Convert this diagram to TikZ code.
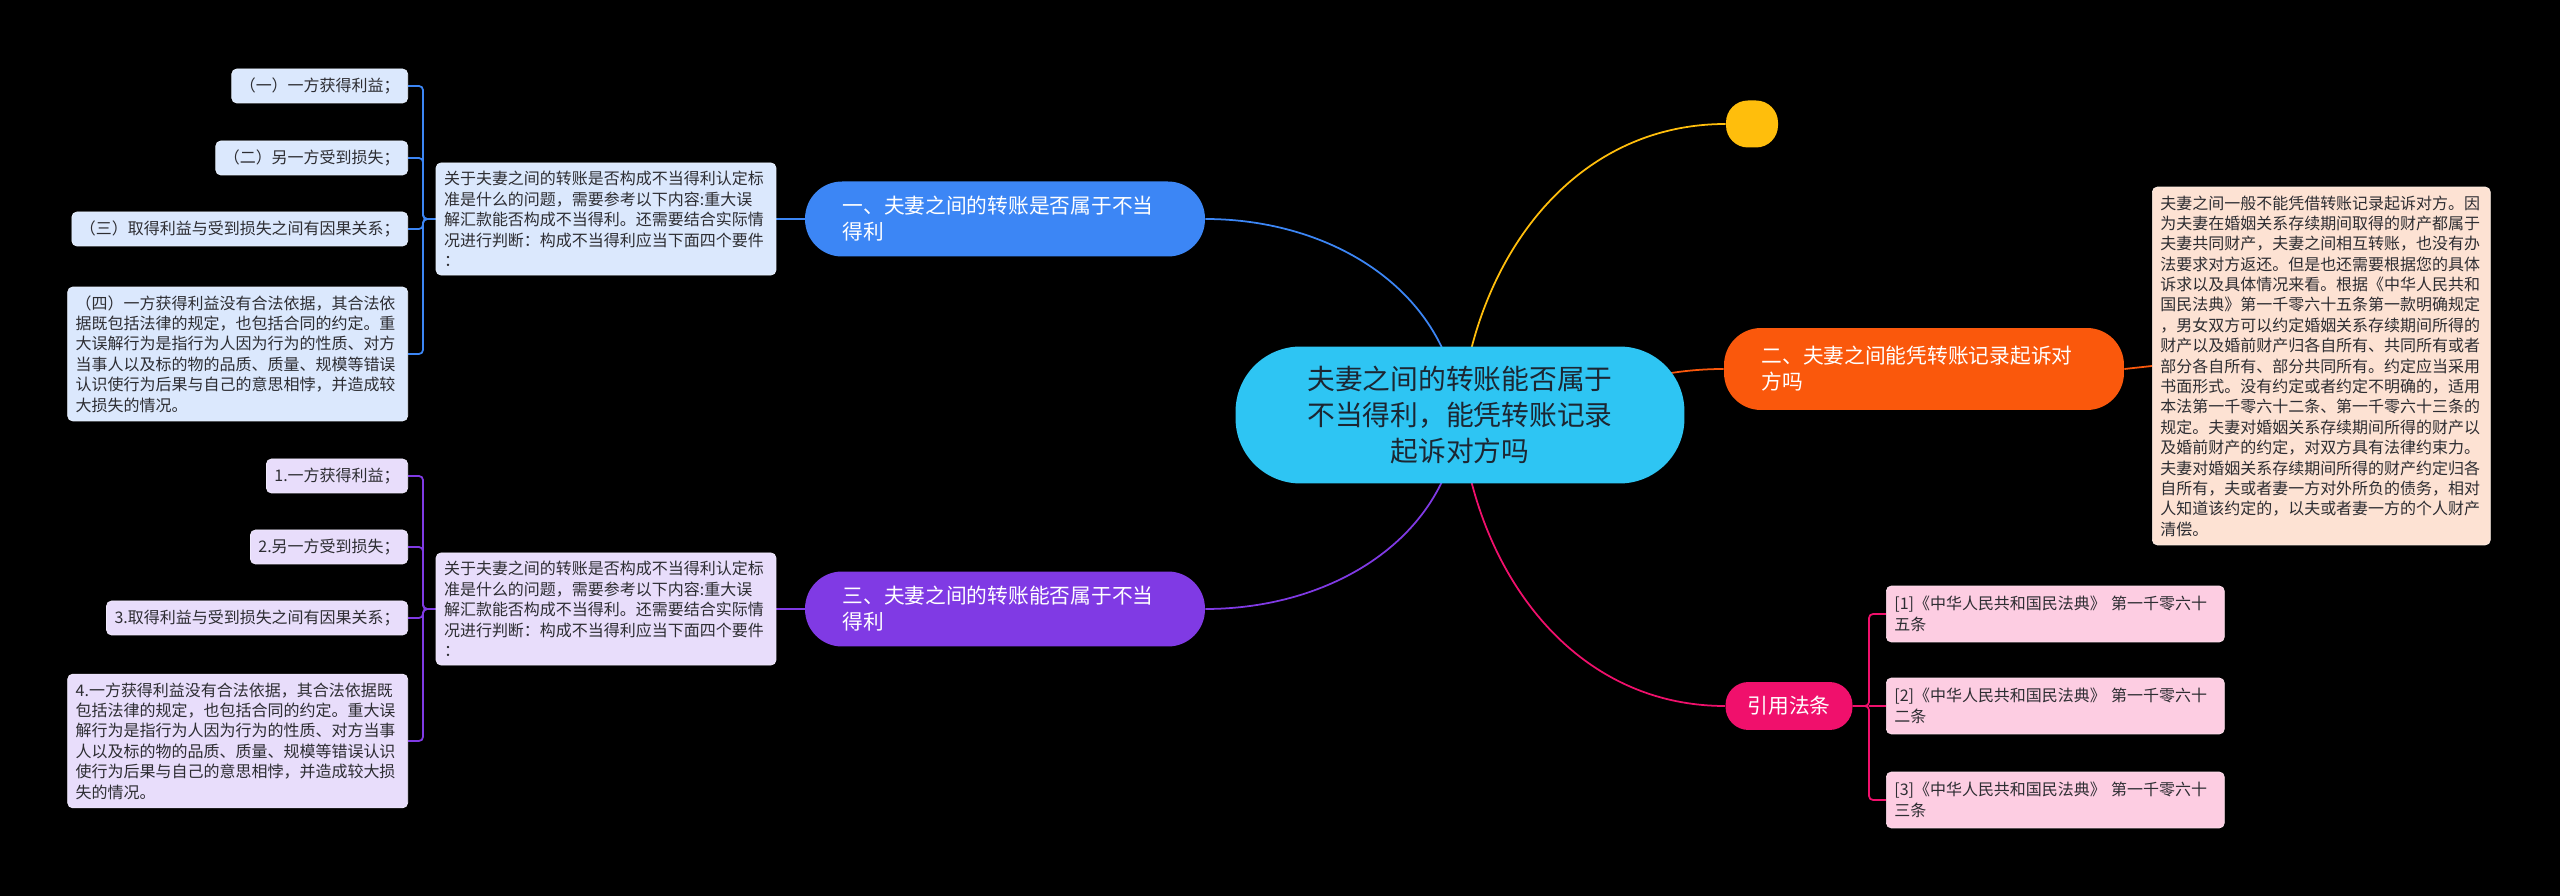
\documentclass[tikz,border=0pt]{standalone}
\usepackage{fontspec}
\setmainfont{Noto Sans CJK SC}
\usepackage{tikz}
\usetikzlibrary{positioning, backgrounds, calc}
\definecolor{rootcyan}{RGB}{46,197,243}
\definecolor{rootink}{RGB}{28,38,50}
\definecolor{branchblue}{RGB}{60,134,245}
\definecolor{branchorange}{RGB}{250,88,12}
\definecolor{branchpurple}{RGB}{128,58,228}
\definecolor{citepink}{RGB}{240,16,108}
\definecolor{dotyellow}{RGB}{255,190,12}
\definecolor{noteblue}{RGB}{219,232,253}
\definecolor{noteorange}{RGB}{253,226,211}
\definecolor{notepurple}{RGB}{232,221,251}
\definecolor{notepink}{RGB}{253,205,226}
\definecolor{noteink}{RGB}{45,45,50}
\tikzset{
    mapcore/.style={rectangle, fill=rootcyan, rounded corners=1.3cm, minimum width=8.98cm, minimum height=2.74cm, align=center, text=rootink, font=\fontsize{15.8}{20.5}\selectfont},
    mapbranch/.style={rectangle, fill=#1, rounded corners=0.74cm, text=white, align=left, text width=6.5cm, inner xsep=0.75cm, minimum height=1.5cm, font=\fontsize{11.8}{14.8}\selectfont},
    mapcite/.style={rectangle, fill=#1, rounded corners=0.46cm, text=white, minimum width=2.54cm, minimum height=0.96cm, font=\fontsize{11.8}{14.8}\selectfont},
    mapdot/.style={rectangle, fill=#1, rounded corners=0.44cm, minimum width=1.04cm, minimum height=0.94cm, inner sep=0pt},
    mapnote/.style={rectangle, fill=#1, draw=#1!60!white, line width=0.4pt, rounded corners=0.1cm, text=noteink, align=left, inner xsep=0.16cm, inner ysep=0.17cm, minimum height=0.68cm, font=\fontsize{9.1}{11.6}\selectfont},
    maplink/.style={draw=#1, line width=1pt},
    mapfork/.style={draw=#1, line width=1pt, rounded corners=0.08cm}
}

\begin{document}
\begin{tikzpicture}[x=0.02cm, y=0.02cm]
\useasboundingbox (0,0) rectangle (2560,896);

% centre and right side
\node[mapcore] (root) at (1460,481) {夫妻之间的转账能否属于\\不当得利，能凭转账记录\\起诉对方吗};
\node[mapdot=dotyellow] (dot) at (1752,772) {};
\node[mapbranch=branchorange, minimum height=1.64cm] (b2) at (1924,527) {二、夫妻之间能凭转账记录起诉对\\方吗};
\node[mapnote=noteorange, text width=6.44cm, anchor=west] (n2) at (2152,530) {夫妻之间一般不能凭借转账记录起诉对方。因\\为夫妻在婚姻关系存续期间取得的财产都属于\\夫妻共同财产，夫妻之间相互转账，也没有办\\法要求对方返还。但是也还需要根据您的具体\\诉求以及具体情况来看。根据《中华人民共和\\国民法典》第一千零六十五条第一款明确规定\\，男女双方可以约定婚姻关系存续期间所得的\\财产以及婚前财产归各自所有、共同所有或者\\部分各自所有、部分共同所有。约定应当采用\\书面形式。没有约定或者约定不明确的，适用\\本法第一千零六十二条、第一千零六十三条的\\规定。夫妻对婚姻关系存续期间所得的财产以\\及婚前财产的约定，对双方具有法律约束力。\\夫妻对婚姻关系存续期间所得的财产约定归各\\自所有，夫或者妻一方对外所负的债务，相对\\人知道该约定的，以夫或者妻一方的个人财产\\清偿。};

\node[mapcite=citepink] (cite) at (1789,190) {引用法条};
\coordinate (k4) at (1869,190);
\node[mapnote=notepink, text width=6.44cm, minimum height=1.12cm, anchor=west] (r1) at (1886,282) {[1]《中华人民共和国民法典》 第一千零六十\\五条};
\node[mapnote=notepink, text width=6.44cm, minimum height=1.12cm, anchor=west] (r2) at (1886,190) {[2]《中华人民共和国民法典》 第一千零六十\\二条};
\node[mapnote=notepink, text width=6.44cm, minimum height=1.12cm, anchor=west] (r3) at (1886,96) {[3]《中华人民共和国民法典》 第一千零六十\\三条};

% left side, upper
\node[mapbranch=branchblue] (b1) at (1005,677) {一、夫妻之间的转账是否属于不当\\得利};
\node[mapnote=noteblue, text width=6.48cm] (n1) at (606,677) {关于夫妻之间的转账是否构成不当得利认定标\\准是什么的问题，需要参考以下内容:重大误\\解汇款能否构成不当得利。还需要结合实际情\\况进行判断：构成不当得利应当下面四个要件\\：};
\coordinate (k1) at (423,677);
\node[mapnote=noteblue, anchor=east] (l11) at (408,810) {（一）一方获得利益；};
\node[mapnote=noteblue, anchor=east] (l12) at (408,738) {（二）另一方受到损失；};
\node[mapnote=noteblue, anchor=east] (l13) at (408,667) {（三）取得利益与受到损失之间有因果关系；};
\node[mapnote=noteblue, text width=6.48cm, anchor=east] (l14) at (408,542) {（四）一方获得利益没有合法依据，其合法依\\据既包括法律的规定，也包括合同的约定。重\\大误解行为是指行为人因为行为的性质、对方\\当事人以及标的物的品质、质量、规模等错误\\认识使行为后果与自己的意思相悖，并造成较\\大损失的情况。};

% left side, lower
\node[mapbranch=branchpurple] (b3) at (1005,287) {三、夫妻之间的转账能否属于不当\\得利};
\node[mapnote=notepurple, text width=6.48cm] (n3) at (606,287) {关于夫妻之间的转账是否构成不当得利认定标\\准是什么的问题，需要参考以下内容:重大误\\解汇款能否构成不当得利。还需要结合实际情\\况进行判断：构成不当得利应当下面四个要件\\：};
\coordinate (k3) at (423,287);
\node[mapnote=notepurple, anchor=east] (l31) at (408,420) {1.一方获得利益；};
\node[mapnote=notepurple, anchor=east] (l32) at (408,349) {2.另一方受到损失；};
\node[mapnote=notepurple, anchor=east] (l33) at (408,278) {3.取得利益与受到损失之间有因果关系；};
\node[mapnote=notepurple, text width=6.48cm, anchor=east] (l34) at (408,155) {4.一方获得利益没有合法依据，其合法依据既\\包括法律的规定，也包括合同的约定。重大误\\解行为是指行为人因为行为的性质、对方当事\\人以及标的物的品质、质量、规模等错误认识\\使行为后果与自己的意思相悖，并造成较大损\\失的情况。};

\begin{scope}[on background layer]
\fill[black] (0,0) rectangle (2560,896);
\draw[maplink=branchblue] (root.center) to[out=95, in=0] (b1.east);
\draw[maplink=dotyellow] (root.center) to[out=85, in=180] (dot.west);
\draw[maplink=branchorange] (root.center) to[out=0, in=180] (b2.west);
\draw[maplink=branchpurple] (root.center) to[out=-95, in=0] (b3.east);
\draw[maplink=citepink] (root.center) to[out=-85, in=180] (cite.west);
\draw[maplink=branchblue] (b1.west) -- (n1.east);
\draw[maplink=branchorange] (b2.east) -- (n2.west);
\draw[maplink=branchpurple] (b3.west) -- (n3.east);
\foreach \leaf in {l11,l12,l13,l14}
    \draw[mapfork=branchblue] (n1.west) -- (k1) |- (\leaf.east);
\foreach \leaf in {l31,l32,l33,l34}
    \draw[mapfork=branchpurple] (n3.west) -- (k3) |- (\leaf.east);
\foreach \leaf in {r1,r3}
    \draw[mapfork=citepink] (cite.east) -- (k4) |- (\leaf.west);
\draw[mapfork=citepink] (k4) -- (r2.west);
\end{scope}

\end{tikzpicture}
\end{document}
